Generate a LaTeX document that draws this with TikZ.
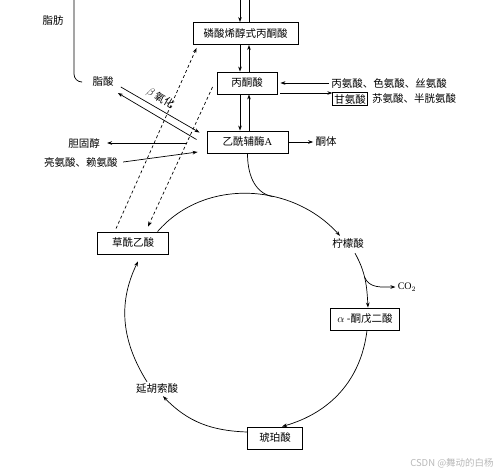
\documentclass[tikz,border=0pt]{standalone}
\usepackage{fontspec}
\setmainfont{Liberation Serif}
\newfontfamily\cjk{Noto Sans CJK SC}
\usetikzlibrary{arrows.meta,positioning}

\begin{document}
\begin{tikzpicture}[x=1pt,y=1pt,
  font=\cjk\fontsize{10.5}{12}\selectfont,
  >={Stealth[length=5pt,width=3.6pt]},
  line width=0.7pt,
  box/.style={draw,line width=0.9pt,minimum height=22pt,inner sep=2pt},
  lbl/.style={inner sep=2pt},
  dashline/.style={dash pattern=on 3pt off 2.5pt}]
\useasboundingbox (0,0) rectangle (499,-475);

\node[box,minimum width=105pt] (pep) at (245.5,-33.5) {磷酸烯醇式丙酮酸};
\node[box,minimum width=60pt] (pyr) at (247,-83) {丙酮酸};
\node[box,minimum width=81pt] (acoa) at (247.5,-142) {乙酰辅酶{\rmfamily A}};
\node[lbl] (ket) at (326,-142) {酮体};
\node[lbl,anchor=west] (ala) at (329,-83) {丙氨酸、色氨酸、丝氨酸};
\node[draw,inner sep=1.5pt,line width=0.8pt] (gly) at (350,-99) {甘氨酸};
\node[lbl,right=2pt of gly] (thr) {苏氨酸、半胱氨酸};
\node[lbl] (fat) at (53,-21) {脂肪};
\node[lbl] (fa) at (103,-82) {脂酸};
\node[lbl] (chol) at (84,-143) {胆固醇};
\node[lbl] (leu) at (81,-162) {亮氨酸、赖氨酸};
\node[box,minimum width=71pt] (oaa) at (133,-243) {草酰乙酸};
\node[lbl] (cit) at (348,-243) {柠檬酸};
\node[box,minimum width=69pt,inner xsep=4pt] (akg) at (365,-319) {$\alpha$ -酮戊二酸};
\node[box,minimum width=55pt] (suc) at (275,-438) {琥珀酸};
\node[lbl] (fum) at (157,-389) {延胡索酸};
\node[lbl,font=\rmfamily\fontsize{10}{12}\selectfont] (co2) at (407,-287) {CO$_2$};
\node[text=black!28,font=\cjk\fontsize{9.5}{11}\selectfont] (wm) at (452,-463) {CSDN @舞动的白杨};

\coordinate (in1) at (240,0);
\coordinate (in2) at (249,0);
\coordinate (fattop) at (74,0);
\coordinate (p1) at ([yshift=-10pt]pyr.east);

\draw[->] (in1) -- (in1 |- pep.north);
\draw (in2) -- (in2 |- pep.north);
\draw[->] (in1 |- pep.south) -- (in1 |- pyr.north);
\draw[->] (in2 |- pyr.north) -- (in2 |- pep.south);
\draw[->] (in1 |- pyr.south) -- (in1 |- acoa.north);
\draw[->] (in2 |- acoa.north) -- (in2 |- pyr.south);

\draw[->,shorten >=3pt] (ala.west) -- (ala.west -| pyr.east);
\draw[->,shorten <=3pt] (p1) -- (p1 -| gly.west);
\draw[->] (acoa.east) -- (ket.west);

\draw[rounded corners=8pt] (fattop) |- ([xshift=-9pt]fa.west);
\draw[->] ([shift={(5,-5)}]fa.east) -- ([shift={(-7,-2)}]acoa.north west)
  node[pos=0.44,above=1pt,sloped] {$\beta$\,氧化};
\draw[->] ([shift={(-10,-9)}]acoa.north west) -- ([shift={(2,-11)}]fa.east);
\draw[->] ([xshift=-20pt,yshift=-1pt]acoa.west) -- ([xshift=5pt]chol.east);
\draw[->] ([xshift=3pt]leu.east) -- ([shift={(-9,-10)}]acoa.west);

\draw[->,dashline] ([shift={(19,3)}]oaa.north west) -- ([shift={(4,-3)}]pep.south west);
\draw[->,dashline] ([shift={(-4,-4)}]pyr.west) -- ([shift={(15,5)}]oaa.north);

% citric acid cycle
\draw[->] (oaa.25) to[out=49,in=132] coordinate[pos=0.62] (join) ([xshift=-8pt]cit.north);
\draw (acoa.south) to[out=-90,in=168] (join);
\draw[->] ([shift={(7,-3)}]cit.south) to[out=-61,in=93] coordinate[pos=0.45] (co2b) ([xshift=3pt]akg.north);
\draw[->] (co2b) to[out=-70,in=180] (co2.west);
\draw[->] ([xshift=2pt]akg.south) to[out=-97,in=16] ([xshift=7pt]suc.north);
\draw[->] ([yshift=6pt]suc.west) to[out=178,in=-46] ([xshift=6pt]fum.south);
\draw[->] ([xshift=-10pt]fum.north) to[out=122,in=-116] ([shift={(5,-7)}]oaa.south);
\end{tikzpicture}
\end{document}
